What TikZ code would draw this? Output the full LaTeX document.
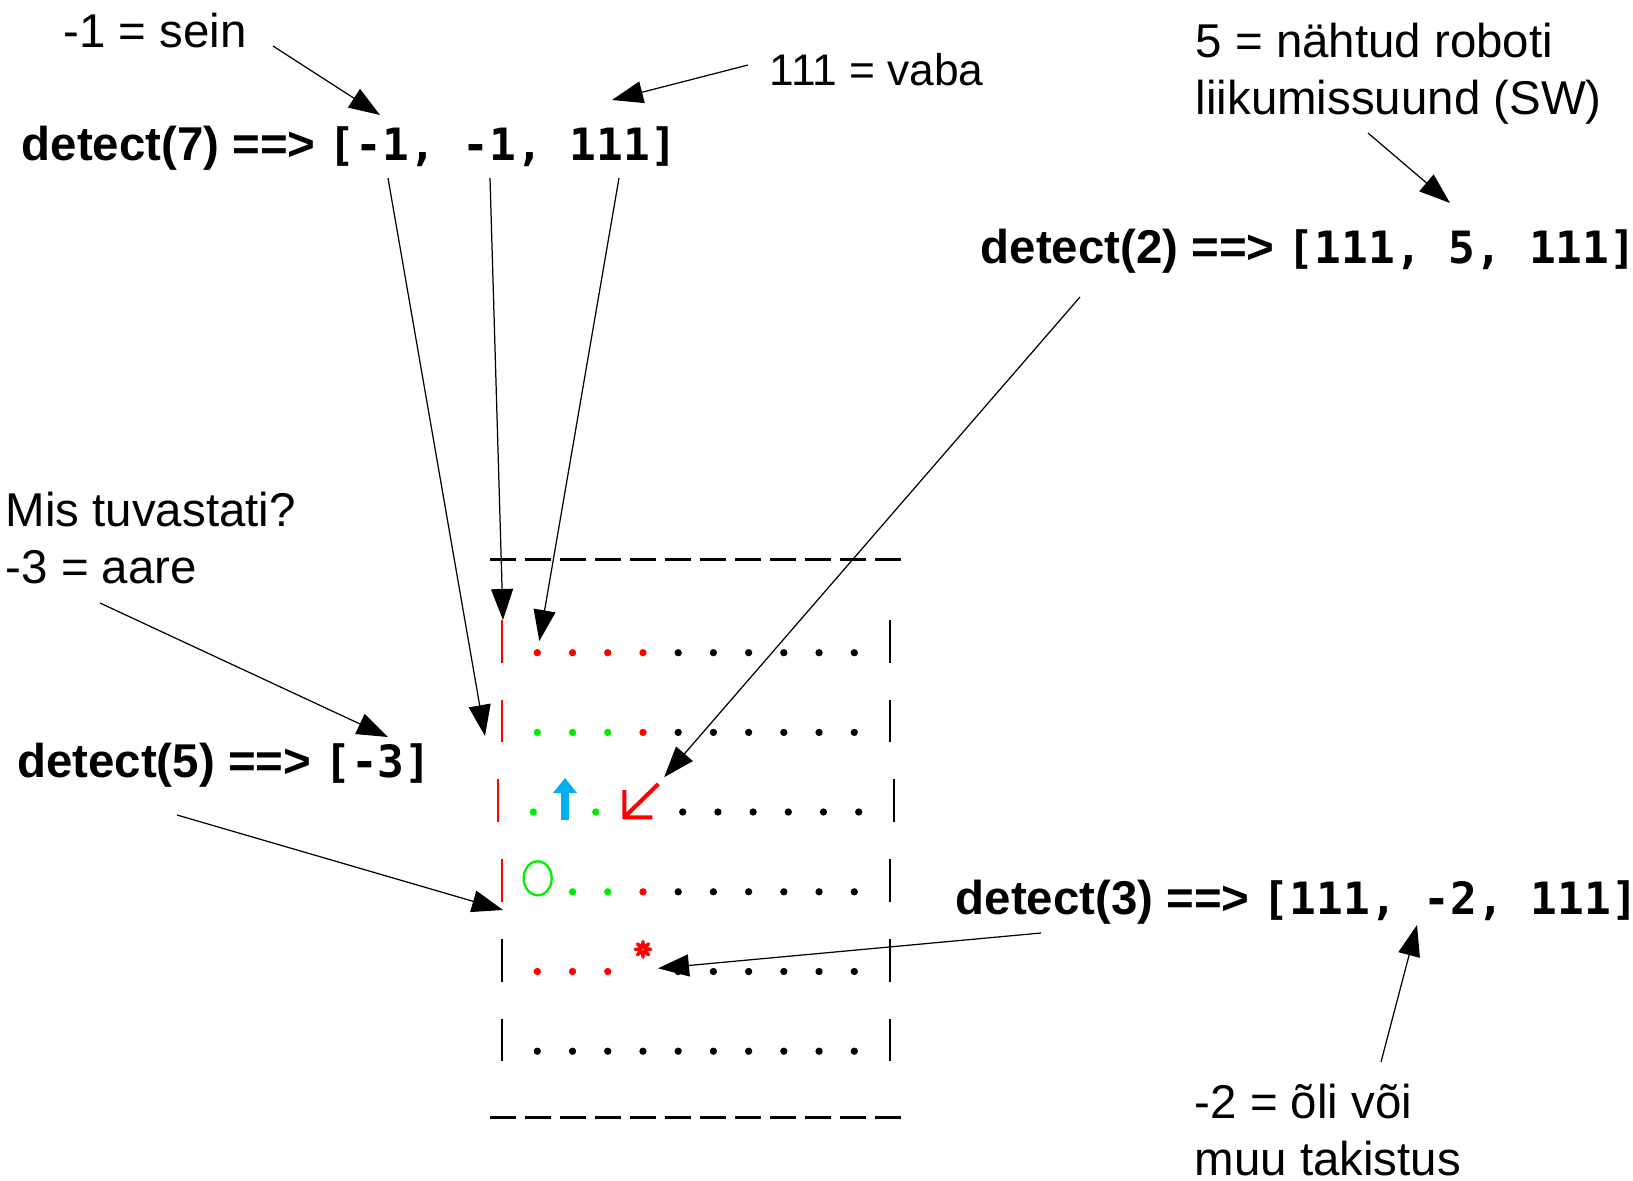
\documentclass[tikz,border=0pt]{standalone}
\usepackage{fontspec}
\setmainfont{Liberation Sans}
\newfontfamily\codefont{DejaVu Sans Mono}
\usepackage{tikz}
\usetikzlibrary{arrows.meta, positioning}
\definecolor{Wall}{HTML}{FF0000}
\definecolor{Seen}{HTML}{00EE00}
\definecolor{Robot}{HTML}{00B0F0}
\newcommand{\notesize}{\fontsize{13.5}{16.2}\selectfont}
\newcommand{\vals}[1]{{\codefont\fontsize{12.66}{16}\selectfont #1}}

\begin{document}
\begin{tikzpicture}[
  note/.style={font=\notesize, align=left, inner sep=0pt, anchor=base west},
  call/.style={font=\notesize\bfseries, inner sep=0pt, anchor=base west},
  pointer/.style={-{Triangle[length=3.1mm, width=2.2mm]}, line width=0.35pt},
  border/.style={line width=0.77pt, dash pattern=on 2.6mm off 0.9mm},
  bar/.style={line width=0.6pt},
  cell/.style={circle, fill, inner sep=0pt, minimum size=0.73mm}
]
\useasboundingbox (0,0) rectangle (16.33,-11.80);

% texts (base anchor of a two-line note sits on its last line)
\node[note] (sein) at (0.625,-0.475) {-1 = sein};
\node[note, font=\fontsize{12.6}{15}\selectfont] (vaba) at (7.69,-0.85) {111 = vaba};
\node[call] (call7) at (0.21,-1.60) {detect(7) ==> \vals{[-1, -1, 111]}};
\node[note] (seen) at (11.95,-1.146) {5 = nähtud roboti\\liikumissuund (SW)};
\node[call] (call2) at (9.80,-2.635) {detect(2) ==> \vals{[111, 5, 111]}};
\node[note] (what) at (0.05,-5.833) {Mis tuvastati?\\-3 = aare};
\node[call] (call5) at (0.165,-7.77) {detect(5) ==> \vals{[-3]}};
\node[call] (call3) at (9.55,-9.14) {detect(3) ==> \vals{[111, -2, 111]}};
\node[note] (oil) at (11.94,-11.75) {-2 = õli või\\muu takistus};

% grid border
\draw[border] (4.90,-5.593) -- (9.03,-5.593);
\draw[border] (4.90,-11.173) -- (9.03,-11.173);

% rows: side walls and the unseen cells
\foreach \r/\y/\lw in {1/-6.527/Wall, 2/-7.324/Wall, 4/-8.918/Wall, 5/-9.715/black, 6/-10.512/black} {
  \draw[bar, \lw] (5.023,\y+0.327) -- (5.023,\y-0.10);
  \draw[bar] (8.897,\y+0.327) -- (8.897,\y-0.10);
  \foreach \c in {5,...,10}
    \node[cell] (r\r c\c) at ({5.373+(\c-1)*0.3522},\y) {};
}
\foreach \c in {1,...,4} \node[cell, Wall] (r1c\c) at ({5.373+(\c-1)*0.3522},-6.527) {};
\foreach \c in {1,...,3} \node[cell, Seen] (r2c\c) at ({5.373+(\c-1)*0.3522},-7.324) {};
\node[cell, Wall] (r2c4) at (6.430,-7.324) {};
\foreach \c in {2,3} \node[cell, Seen] (r4c\c) at ({5.373+(\c-1)*0.3522},-8.918) {};
\node[cell, Wall] (r4c4) at (6.430,-8.918) {};
\foreach \c in {1,...,3} \node[cell, Wall] (r5c\c) at ({5.373+(\c-1)*0.3522},-9.715) {};
\foreach \c in {1,...,4} \node[cell] (r6c\c) at ({5.373+(\c-1)*0.3522},-10.512) {};

% row 3 with the robots
\draw[bar, Wall] (4.98,-7.793) -- (4.98,-8.22);
\draw[bar] (8.943,-7.793) -- (8.943,-8.22);
\node[cell, Seen] (r3a) at (5.333,-8.12) {};
\node[cell, Seen] (r3b) at (5.957,-8.12) {};
\foreach \c in {0,...,5} \node[cell] (r3k\c) at ({6.827+\c*0.352},-8.12) {};
\draw[Robot, line width=2pt, -{Triangle[length=1.5mm, width=2.3mm]}] (5.65,-8.20) -- (5.65,-7.78);
\coordinate (other) at (6.583,-7.84);
\draw[Wall, line width=1.15pt] (6.243,-7.90) -- (6.243,-8.173) -- (6.523,-8.173)
  (6.243,-8.173) -- (other);

% own start, treasure
\draw[Seen, line width=0.65pt] (5.377,-8.783) ellipse [x radius=0.14, y radius=0.17];
\foreach \a in {0,45,...,315}
  \fill[Wall, shift={(6.43,-9.493)}, rotate=\a] (0,0.05) ellipse [x radius=0.02, y radius=0.045];

% pointers
\coordinate (sein-a) at (2.73,-0.46);   \coordinate (sein-b) at (3.80,-1.15);
\coordinate (vaba-a) at (7.48,-0.65);   \coordinate (vaba-b) at (6.12,-1.00);
\coordinate (seen-a) at (13.68,-1.33);  \coordinate (seen-b) at (14.50,-2.03);
\coordinate (what-a) at (1.00,-6.03);   \coordinate (what-b) at (3.88,-7.37);
\coordinate (oil-a) at (13.81,-10.62);  \coordinate (oil-b) at (14.17,-9.25);
\coordinate (c7-1) at (3.88,-1.78);     \coordinate (c7-2) at (4.90,-1.78);
\coordinate (c7-3) at (6.19,-1.78);     \coordinate (c2-a) at (10.80,-2.97);
\coordinate (c5-a) at (1.77,-8.15);     \coordinate (c3-a) at (10.41,-9.33);
\coordinate (w1) at (5.03,-6.20);       \coordinate (w2) at (4.85,-7.36);
\coordinate (w4) at (5.03,-9.10);       \coordinate (gem) at (6.58,-9.683);
\draw[pointer] (sein-a) -- (sein-b);
\draw[pointer] (vaba-a) -- (vaba-b);
\draw[pointer] (seen-a) -- (seen-b);
\draw[pointer] (what-a) -- (what-b);
\draw[pointer] (oil-a) -- (oil-b);
\draw[pointer] (c7-1) -- (w2);
\draw[pointer] (c7-2) -- (w1);
\draw[pointer, shorten >=0.75mm] (c7-3) -- (r1c1);
\draw[pointer, shorten >=0.9mm] (c2-a) -- (other);
\draw[pointer] (c5-a) -- (w4);
\draw[pointer] (c3-a) -- (gem);
\end{tikzpicture}
\end{document}
